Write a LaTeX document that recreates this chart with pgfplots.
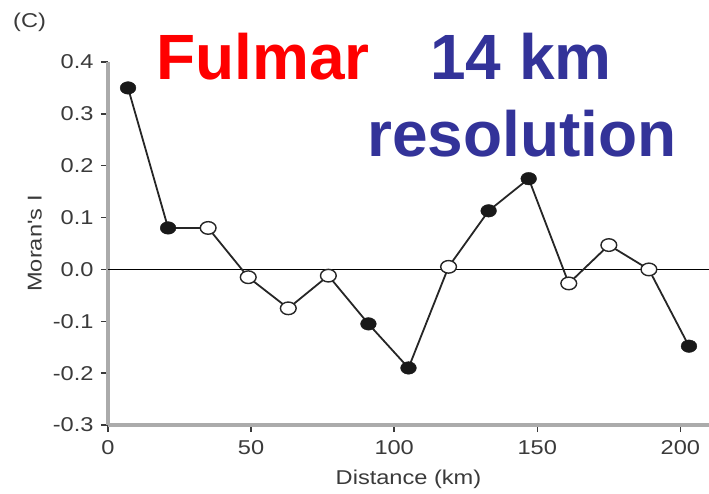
\documentclass[border=0pt]{standalone}
\usepackage{fontspec}
\setmainfont{Liberation Sans}
\newfontfamily\lab{Liberation Sans}[FakeStretch=1.18]
\newfontfamily\ttl{Liberation Sans}
\usepackage{pgfplots}
\pgfplotsset{compat=1.18}
\definecolor{axgray}{HTML}{ABABAB}
\definecolor{txtgray}{HTML}{3A3A3A}
\definecolor{ttlblue}{HTML}{333399}
\begin{document}
\begin{tikzpicture}
\path[use as bounding box] (-108pt,-68pt) rectangle (601pt,425pt);
\begin{axis}[
  at={(0,0)}, anchor=south west,
  scale only axis, width=601pt, height=363pt,
  xmin=0, xmax=210, ymin=-0.3, ymax=0.4,
  axis x line*=bottom, axis y line*=left,
  axis line style={draw=axgray, line width=3.5pt},
  xtick={0,50,100,150,200},
  ytick={-0.3,-0.2,-0.1,0,0.1,0.2,0.3,0.4},
  tick align=outside, major tick length=7pt,
  every tick/.style={draw=txtgray, line width=1.4pt},
  /pgf/number format/assume math mode=true,
  ticklabel style={font=\lab\fontsize{20}{24}\selectfont, text=txtgray},
  xticklabel style={yshift=-5pt},
  yticklabel style={xshift=-4pt, /pgf/number format/.cd, fixed, fixed zerofill, precision=1},
  xlabel={Distance (km)}, ylabel={Moran's I},
  label style={font=\lab\fontsize{20}{24}\selectfont, text=txtgray},
  xlabel style={yshift=-8pt},
  ylabel style={yshift=4pt},
  clip=false,
]
\addplot[black, line width=1.8pt] coordinates {(0,0) (210,0)};
\addplot[black!85, line width=1.8pt] coordinates {
(7,0.35) (21,0.08) (35,0.08) (49,-0.015) (63,-0.075) (77,-0.012) (91,-0.105)
(105,-0.19) (119,0.005) (133,0.113) (147,0.175) (161,-0.027) (175,0.047)
(189,0.0) (203,-0.148)};
\addplot[only marks, mark=*, mark size=6.3pt, mark options={xscale=1.25, fill=black!90, draw=black!90}] coordinates {
(7,0.35) (21,0.08) (91,-0.105) (105,-0.19) (133,0.113) (147,0.175) (203,-0.148)};
\addplot[only marks, mark=*, mark size=6.3pt, mark options={xscale=1.25, fill=white, draw=black!85, line width=1.4pt}] coordinates {
(35,0.08) (49,-0.015) (63,-0.075) (77,-0.012) (119,0.005) (161,-0.027) (175,0.047) (189,0.0)};
\end{axis}
\node[anchor=base west, inner sep=0pt, font=\ttl\bfseries\fontsize{64}{70}\selectfont, text=red] at (48pt,345pt) {Fulmar};
\node[anchor=base west, inner sep=0pt, font=\ttl\bfseries\fontsize{64}{70}\selectfont, text=ttlblue] at (322pt,345pt) {14 km};
\node[anchor=base west, inner sep=0pt, font=\ttl\bfseries\fontsize{64}{70}\selectfont, text=ttlblue] at (259pt,268pt) {resolution};
\node[anchor=base west, inner sep=0pt, font=\lab\fontsize{20}{24}\selectfont, text=txtgray] at (-95pt,397pt) {(C)};
\end{tikzpicture}
\end{document}
